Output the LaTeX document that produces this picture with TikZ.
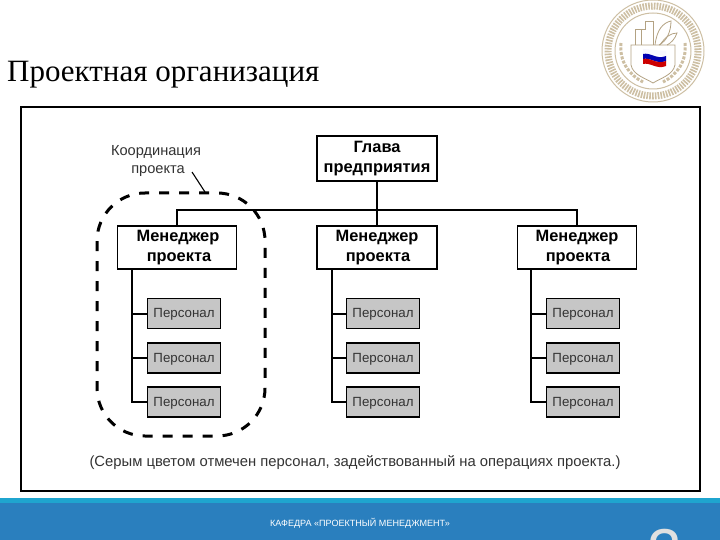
\documentclass[tikz,border=0pt]{standalone}
\usepackage{fontspec}
\setmainfont{Liberation Sans}
\newfontfamily\serifface{Liberation Serif}
\definecolor{barblue}{HTML}{2A7FBE}
\definecolor{barlight}{HTML}{1FA5CF}
\definecolor{boxgrey}{HTML}{C6C6C6}
\definecolor{seal}{HTML}{CDBFA3}
\definecolor{sealdark}{HTML}{B3A283}
\tikzset{
  x=1pt,y=-1pt,
  head/.style={draw=black,line width=1.5pt,fill=white,minimum width=119pt,align=center,inner sep=0pt,font=\bfseries\fontsize{16.4}{19.2}\selectfont},
  staff/.style={draw=black,line width=1.4pt,fill=boxgrey,minimum width=73pt,minimum height=30pt,inner sep=0pt,font=\fontsize{13.3}{15}\selectfont,text=black!80},
  conn/.style={line width=1.1pt,draw=black},
  note/.style={inner sep=0pt,font=\fontsize{14.6}{17}\selectfont,text=black!80}
}
\newcommand{\stafftext}{\raisebox{-0.5pt}[7pt][0pt]{Персонал}}
\begin{document}
\begin{tikzpicture}
\useasboundingbox (0,0) rectangle (720,540);
\clip (0,0) rectangle (720,540);
% footer
\fill[barblue] (0,498) rectangle (720,540);
\fill[barlight] (0,498) rectangle (720,503);
\node[inner sep=0pt,text=white,font=\fontsize{9.05}{11}\selectfont] (foot) at (360,523) {КАФЕДРА «ПРОЕКТНЫЙ МЕНЕДЖМЕНТ»};
\node[inner sep=0pt,text=black!12,font=\fontsize{62}{62}\selectfont,anchor=base] (pnum) at (665,572) {2};
% title
\node[anchor=base west,inner sep=0pt,font=\serifface\fontsize{31}{33}\selectfont] (title) at (7,82) {Проектная организация};
% seal
\begin{scope}[shift={(653,51)}]
  \draw[seal,line width=1pt] (0,0) circle (51);
  \draw[seal,line width=7pt,dash pattern=on 1.6pt off 1.2pt] (0,0) circle (45);
  \draw[seal,line width=1pt] (0,0) circle (38);
  \draw[seal,line width=3pt,dash pattern=on 3pt off 1.5pt] (-32,-8) .. controls (-34,10) and (-24,24) .. (-10,31);
  \draw[seal,line width=3pt,dash pattern=on 3pt off 1.5pt] (32,-8) .. controls (34,10) and (24,24) .. (10,31);
  \draw[sealdark,line width=.8pt,fill=white] (-22,-6) -- (-22,14) .. controls (-20,24) and (-8,27) .. (0,32) .. controls (8,27) and (20,24) .. (22,14) -- (22,-6) -- cycle;
  \draw[sealdark,line width=.8pt] (-18,-6) -- (-18,-22) -- (-8,-22) -- (-8,-30) -- (0,-30) -- (0,-6);
  \draw[sealdark,line width=.8pt] (-12,-22) -- (-12,-6);
  \draw[sealdark,line width=.8pt] (2,-6) .. controls (4,-22) and (10,-28) .. (18,-30) .. controls (18,-20) and (14,-10) .. (6,-6);
  \draw[sealdark,line width=.8pt] (7,-6) .. controls (12,-14) and (18,-18) .. (24,-18) .. controls (22,-12) and (18,-8) .. (14,-6);
  \fill[white!70!blue!10] (-10,-2) -- (13,0) -- (13,5) -- (-10,3) -- cycle;
  \fill[blue!70!black] (-10,3) .. controls (-3,1) and (4,9) .. (13,5) -- (13,10) .. controls (4,14) and (-3,6) .. (-10,8) -- cycle;
  \fill[red!80!black] (-10,8) .. controls (-3,6) and (4,14) .. (13,10) -- (13,15) .. controls (4,19) and (-3,11) .. (-10,13) -- cycle;
\end{scope}
% frame
\draw[black,line width=1.6pt,fill=white] (21,107) rectangle (700,491);
% heads
\node[head,minimum width=120pt,minimum height=45pt] (top) at (377,158.5) {Глава\\предприятия};
\node[head,minimum height=43pt] (m1) at (177,247.5) {\hspace*{2pt}Менеджер\\\hspace*{4pt}проекта};
\node[head,minimum width=120pt,minimum height=43pt] (m2) at (377,247.5) {Менеджер\\\hspace*{2pt}проекта};
\node[head,minimum height=43pt] (m3) at (577,247.5) {Менеджер\\\hspace*{2pt}проекта};
% staff
\foreach \c/\x in {1/184,2/383,3/583}{
  \node[staff] (p\c a) at (\x,313.5) {\stafftext};
  \node[staff] (p\c b) at (\x,358) {\stafftext};
  \node[staff] (p\c c) at (\x,402) {\stafftext};
}
% connectors
\coordinate (bus) at (377,210);
\draw[conn] (top.south) -- (m2.north);
\draw[conn] (m1.north) |- (bus) -| (m3.north);
\foreach \c/\x in {1/132,2/332,3/531}{
  \coordinate (t\c) at (\x,269);
  \draw[conn] (t\c) |- (p\c c.west);
  \draw[conn] (\x,314) -- (p\c a.west |- \x,314);
  \draw[conn] (\x,358) -- (p\c b.west);
}
% dashed outline
\coordinate (d1) at (97,193);
\coordinate (d2) at (265,436);
\draw[black,line width=3pt,dash pattern=on 10pt off 10pt,rounded corners=48pt] (d1) rectangle (d2);
% labels
\node[note] (lab) at (156,152) {Координация};
\node[note] (lab2) at (158,171) {проекта};
\coordinate (ptr1) at (192,172);
\coordinate (ptr2) at (205,192);
\draw[line width=1.1pt] (ptr1) -- (ptr2);
\node[note,anchor=base,font=\fontsize{14.8}{17}\selectfont] (cap) at (355,466) {(Серым цветом отмечен персонал, задействованный на операциях проекта.)};
\end{tikzpicture}
\end{document}
